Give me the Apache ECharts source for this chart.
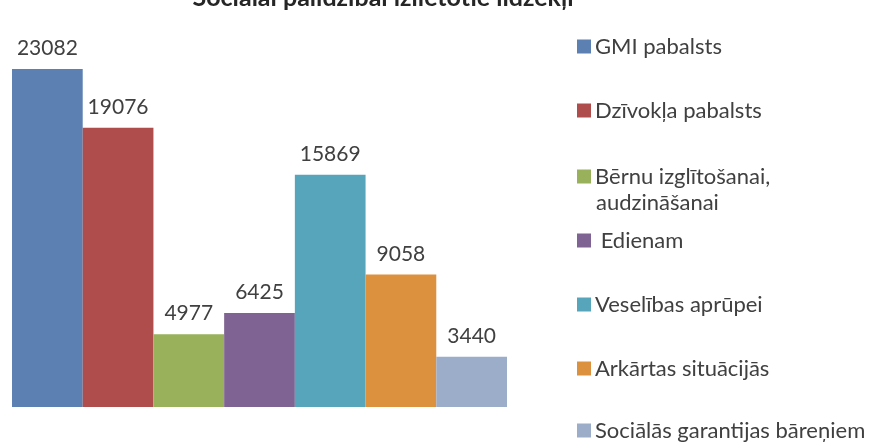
<!DOCTYPE html>
<html><head><meta charset="utf-8">
<script src="https://cdn.jsdelivr.net/npm/echarts@6/dist/echarts.min.js"></script>
<style>html,body{margin:0;padding:0;background:#fff}#c{width:877px;height:446px}</style>
</head><body><div id="c"></div>
<script>
var title = 'Sociālai palīdzībai izlietotie līdzekļi';
var seriesNames = ['GMI pabalsts', 'Dzīvokļa pabalsts', 'Bērnu izglītošanai, audzināšanai', ' Edienam', 'Veselības aprūpei', 'Arkārtas situācijās', 'Sociālās garantijas bāreņiem'];
var seriesValues = [23082, 19076, 4977, 6425, 15869, 9058, 3440];
var colors = ['#5b80b1', '#ae4d4b', '#98b15a', '#7f6392', '#56a5bb', '#dc913f', '#9badc9'];
var legendTops = [33, 97, 163, 227, 291, 355, 417];

var font = 'Lato, "Open Sans", sans-serif';
var series = seriesNames.map(function (n, i) {
  return {
    name: n, type: 'bar', data: [seriesValues[i]],
    barGap: '0%', barCategoryGap: '0%',
    itemStyle: { color: colors[i] },
    label: { show: true, position: 'top', distance: 10, color: '#404040', fontSize: 21, fontFamily: font },
    emphasis: { disabled: true }
  };
});
var legends = seriesNames.map(function (n, i) {
  return {
    data: [n], left: 577, top: legendTops[i], orient: 'vertical',
    itemWidth: 14, itemHeight: 14, itemGap: 0, icon: 'rect',
    formatter: function (name) { return name.replace(' audzināšanai', ''); },
    textStyle: { color: '#404040', fontSize: 22, fontFamily: font, lineHeight: 27, padding: [0, 0, 0, -1] },
    selectedMode: false, padding: 0
  };
});
var chart = echarts.init(document.getElementById('c'));
chart.setOption({
  animation: false,
  title: { text: title, left: 378, textAlign: 'center', top: -20,
    textStyle: { fontSize: 25, fontWeight: 'bold', color: '#262626', fontFamily: font } },
  legend: legends,
  graphic: [{ type: 'text', left: 596, top: 192,
    style: { text: 'audzināšanai', fill: '#404040', fontSize: 22, fontFamily: font } }],
  grid: { left: 12, right: 370, bottom: 39, top: 41 },
  xAxis: { type: 'category', data: [''], show: false },
  yAxis: { type: 'value', min: 0, max: 25000, show: false },
  series: series
});
</script></body></html>
